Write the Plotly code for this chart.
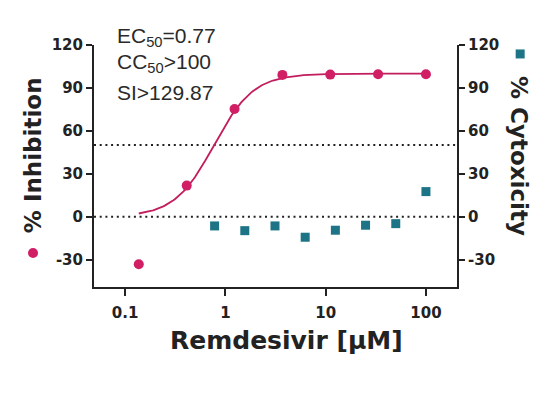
import numpy as np
import plotly.graph_objects as go

# ---- data ----
conc_inh = [0.137, 0.412, 1.235, 3.704, 11.11, 33.33, 100]
inhibition = [-33.3, 21.7, 75.3, 99.1, 99.3, 99.5, 99.6]

conc_cyt = [0.78125, 1.5625, 3.125, 6.25, 12.5, 25, 50, 100]
cytotox = [-6.5, -9.8, -6.5, -14.4, -9.5, -6.0, -4.9, 17.5]

ref_levels = [0, 50]
x_tickvals = [0.1, 1, 10, 100]
x_ticktext = ["0.1", "1", "10", "100"]
y_tickvals = [-30, 0, 30, 60, 90, 120]
y_ticktext = ["-30", "0", "30", "60", "90", "120"]

# dose-response fit parameters (4PL)
EC50 = 0.77
HILL = 2.2
BOTTOM = 0.0
TOP = 100.0
fit_x_min, fit_x_max = 0.137, 100

stats_lines = ["EC<sub>50</sub>=0.77", "CC<sub>50</sub>>100", "SI>129.87"]

PINK = "#d11f66"
PINK_LINE = "#c21d5c"
TEAL = "#1c7486"
INK = "#222222"

fx = np.logspace(np.log10(fit_x_min), np.log10(fit_x_max), 200)
fy = BOTTOM + (TOP - BOTTOM) / (1 + (EC50 / fx) ** HILL)

fig = go.Figure()
fig.add_trace(go.Scatter(x=fx, y=fy, mode="lines",
                         line=dict(color=PINK_LINE, width=1.8),
                         showlegend=False, hoverinfo="skip"))
fig.add_trace(go.Scatter(x=conc_inh, y=inhibition, mode="markers",
                         marker=dict(symbol="circle", size=10, color=PINK),
                         showlegend=False, cliponaxis=False))
fig.add_trace(go.Scatter(x=conc_cyt, y=cytotox, mode="markers", yaxis="y2",
                         marker=dict(symbol="square", size=9, color=TEAL),
                         showlegend=False, cliponaxis=False))

for lv in ref_levels:
    fig.add_shape(type="line", xref="paper", x0=0, x1=1, yref="y", y0=lv, y1=lv,
                  line=dict(color=INK, width=2, dash="2px,3.7px"), layer="below")

# legend-like markers beside the axis titles (pixel-sized shapes)
fig.add_shape(type="circle", xref="paper", yref="paper",
              xsizemode="pixel", ysizemode="pixel",
              xanchor=-0.168, yanchor=0.1405, x0=-5, x1=5, y0=-5, y1=5,
              fillcolor=PINK, line=dict(width=0))
fig.add_shape(type="rect", xref="paper", yref="paper",
              xsizemode="pixel", ysizemode="pixel",
              xanchor=1.174, yanchor=0.963, x0=-4.5, x1=4.5, y0=-4.5, y1=4.5,
              fillcolor=TEAL, line=dict(width=0))

tickfont = dict(family="DejaVu Sans", size=15, color=INK, weight="bold")
yrange = [-49.2, 120]

# page body adds an 8px offset; compensate so the plot lands where the reference has it
fig.update_layout(
    width=552, height=388,
    margin=dict(l=86, r=103, t=37, b=109),
    paper_bgcolor="white", plot_bgcolor="white",
    xaxis=dict(type="log", range=[np.log10(0.049), np.log10(204)],
               tickvals=x_tickvals, ticktext=x_ticktext,
               showline=True, linecolor=INK, linewidth=2,
               ticks="outside", ticklen=7, tickwidth=2, tickcolor=INK,
               showgrid=False, zeroline=False, tickfont=tickfont,
               ticklabelstandoff=4),
    yaxis=dict(range=yrange, tickvals=y_tickvals, ticktext=y_ticktext,
               showline=True, linecolor=INK, linewidth=2,
               ticks="outside", ticklen=6, tickwidth=2, tickcolor=INK,
               showgrid=False, zeroline=False, tickfont=tickfont),
    yaxis2=dict(range=yrange, tickvals=y_tickvals, ticktext=y_ticktext,
                overlaying="y", side="right",
                showline=True, linecolor=INK, linewidth=2,
                ticks="outside", ticklen=6, tickwidth=2, tickcolor=INK,
                showgrid=False, zeroline=False, tickfont=tickfont),
)

title_font = dict(family="DejaVu Sans", size=23, color=INK, weight="bold")
fig.add_annotation(text="% Inhibition", xref="paper", yref="paper",
                   x=-0.168, y=0.545, textangle=-90, showarrow=False,
                   font=title_font, xanchor="center", yanchor="middle")
fig.add_annotation(text="% Cytoxicity", xref="paper", yref="paper",
                   x=1.171, y=0.541, textangle=90, showarrow=False,
                   font=title_font, xanchor="center", yanchor="middle")
fig.add_annotation(text="Remdesivir [µM]", xref="paper", yref="paper",
                   x=0.530, y=-0.223, showarrow=False,
                   font=dict(family="DejaVu Sans", size=25, color=INK, weight="bold"),
                   xanchor="center", yanchor="middle")

stat_y = [1.033, 0.926, 0.804]
for txt, yy in zip(stats_lines, stat_y):
    fig.add_annotation(text=txt, xref="paper", yref="paper", x=0.058, y=yy,
                       showarrow=False, xanchor="left", yanchor="middle",
                       font=dict(family="Liberation Sans", size=21, color="#2a2a2a"))

fig.write_html("out.html")
